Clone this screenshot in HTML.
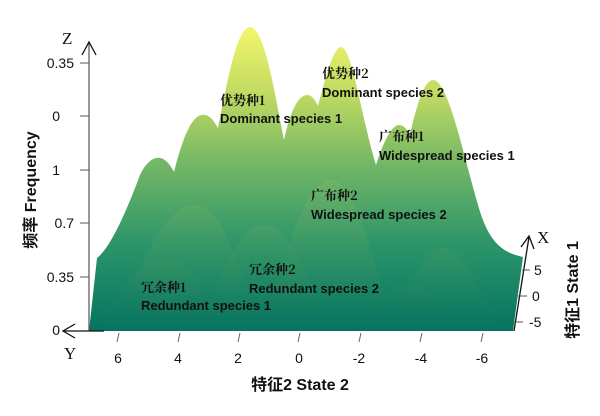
<!DOCTYPE html>
<html><head><meta charset="utf-8"><style>
html,body{margin:0;padding:0;background:#fff;}
svg{display:block;}
.t{font-family:"Liberation Sans",sans-serif;font-size:14px;fill:#111;}
.lab{font-family:"Liberation Sans","Noto Serif CJK SC",serif;font-size:13px;font-weight:bold;fill:#111;}
.cn{font-family:"Noto Serif CJK SC","Liberation Serif",serif;font-size:13px;font-weight:bold;fill:#111;}
</style></head><body>
<svg width="600" height="416" viewBox="0 0 600 416" xmlns="http://www.w3.org/2000/svg">
<defs>
<linearGradient id="g" x1="0" y1="27" x2="0" y2="331" gradientUnits="userSpaceOnUse">
<stop offset="0" stop-color="#f4f66c"/>
<stop offset="0.22" stop-color="#c0da62"/>
<stop offset="0.45" stop-color="#74b766"/>
<stop offset="0.72" stop-color="#2a9469"/>
<stop offset="1" stop-color="#067460"/>
</linearGradient>
<linearGradient id="g2" x1="0" y1="150" x2="0" y2="331" gradientUnits="userSpaceOnUse">
<stop offset="0" stop-color="#8cc46a" stop-opacity="0.7"/>
<stop offset="1" stop-color="#067460" stop-opacity="0.2"/>
</linearGradient>
</defs>
<path fill="url(#g)" d="M89,331 L97,258 C110,248 125,215 140,175 C148,158 162,148 174,172 C182,140 192,112 205,115 C212,116 216,125 218,128 C226,90 236,27 250,27 C265,27 276,100 284,140 C290,112 298,95 307,95 C313,95 316,102 318,106 C325,80 333,47 341,47 C352,47 362,120 376,165 C384,140 392,125 399,125 C404,125 407,130 410,134 C418,100 425,80 433,80 C448,80 462,150 478,205 C488,240 500,252 523,257 L513,331 Z"/>
<g fill="url(#g2)">
<path d="M120,331 C140,250 170,205 195,205 C220,205 240,260 260,331Z"/>
<path d="M95,331 C120,290 140,258 165,258 C190,258 210,300 230,331Z"/>
<path d="M200,331 C220,270 240,225 265,225 C290,225 310,280 330,331Z"/>
<path d="M260,331 C285,260 305,180 330,180 C355,180 370,250 395,331Z"/>
<path d="M390,331 C410,280 425,248 445,248 C465,248 480,290 500,331Z"/>
<path d="M360,331 C380,290 395,285 410,285 C430,285 450,305 470,331Z"/>
</g>
<line x1="89" y1="331" x2="89" y2="42" stroke="#555" stroke-width="1.2"/>
<path d="M82,55 L89,42 L96,55" fill="none" stroke="#111" stroke-width="1.3"/>
<text x="62" y="44" class="t" style="font-family:'Liberation Serif',serif;font-size:17px">Z</text>
<g stroke="#555" stroke-width="1">
<line x1="80" y1="63" x2="89" y2="63"/><line x1="80" y1="116" x2="89" y2="116"/><line x1="80" y1="170" x2="89" y2="170"/><line x1="80" y1="223" x2="89" y2="223"/><line x1="80" y1="277" x2="89" y2="277"/>
</g>
<g class="t" text-anchor="end">
<text x="74" y="68">0.35</text><text x="60" y="121">0</text><text x="60" y="175">1</text><text x="74" y="228">0.7</text><text x="74" y="282">0.35</text><text x="60" y="335">0</text>
</g>
<line x1="63" y1="331" x2="104" y2="331" stroke="#111" stroke-width="1.3"/>
<path d="M75,324 L63,331 L75,338" fill="none" stroke="#111" stroke-width="1.3"/>
<text x="64" y="359" class="t" style="font-family:'Liberation Serif',serif;font-size:17px">Y</text>
<text transform="translate(36,190) rotate(-90)" text-anchor="middle" style="font-family:'Liberation Sans','Noto Sans CJK SC',sans-serif;font-size:16px;font-weight:bold;fill:#111">频率 Frequency</text>
<g stroke="#666" stroke-width="1">
<line x1="119" y1="333" x2="117" y2="342"/><line x1="180" y1="333" x2="178" y2="342"/><line x1="240" y1="333" x2="238" y2="342"/><line x1="300" y1="333" x2="298" y2="342"/><line x1="361" y1="333" x2="359" y2="342"/><line x1="422" y1="333" x2="420" y2="342"/><line x1="483" y1="333" x2="481" y2="342"/>
</g>
<g class="t" text-anchor="middle">
<text x="118" y="363">6</text><text x="178" y="363">4</text><text x="238" y="363">2</text><text x="299" y="363">0</text><text x="359" y="363">-2</text><text x="421" y="363">-4</text><text x="482" y="363">-6</text>
</g>
<text x="300" y="390" text-anchor="middle" style="font-family:'Liberation Sans','Noto Sans CJK SC',sans-serif;font-size:16px;font-weight:bold;fill:#111">特征2 State 2</text>
<line x1="514" y1="331" x2="529" y2="237" stroke="#111" stroke-width="1.3"/>
<path d="M521,247 L529,236 L534,249" fill="none" stroke="#111" stroke-width="1.3"/>
<text x="537" y="243" class="t" style="font-family:'Liberation Serif',serif;font-size:17px">X</text>
<g stroke="#555" stroke-width="1">
<line x1="522" y1="270" x2="530" y2="270"/><line x1="518" y1="296" x2="527" y2="296"/><line x1="514" y1="322" x2="523" y2="322"/>
</g>
<g class="t"><text x="534" y="275">5</text><text x="532" y="301">0</text><text x="529" y="327">-5</text></g>
<text transform="translate(578,290) rotate(-90)" text-anchor="middle" style="font-family:'Liberation Sans','Noto Sans CJK SC',sans-serif;font-size:16px;font-weight:bold;fill:#111">特征1 State 1</text>
<text x="220" y="105" class="cn">优势种1</text><text x="220" y="123" class="lab">Dominant species 1</text>
<text x="322" y="78" class="cn">优势种2</text><text x="322" y="97" class="lab">Dominant species 2</text>
<text x="379" y="141" class="cn">广布种1</text><text x="379" y="160" class="lab">Widespread species 1</text>
<text x="311" y="200" class="cn">广布种2</text><text x="311" y="219" class="lab">Widespread species 2</text>
<text x="249" y="274" class="cn">冗余种2</text><text x="249" y="293" class="lab">Redundant species 2</text>
<text x="141" y="292" class="cn">冗余种1</text><text x="141" y="310" class="lab">Redundant species 1</text>
</svg>
</body></html>
